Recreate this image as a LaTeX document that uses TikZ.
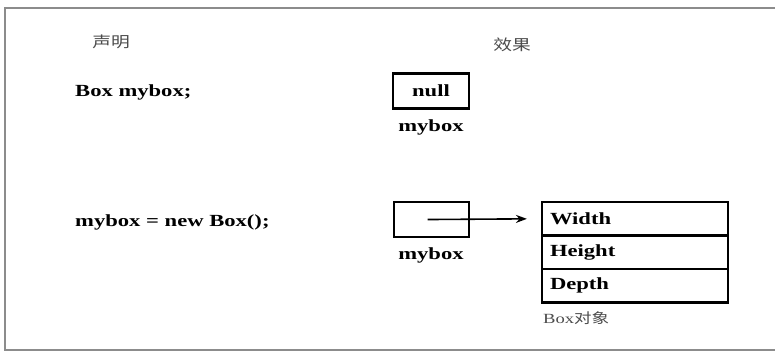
\documentclass[tikz,border=0pt]{standalone}
\usepackage{fontspec}
\setmainfont{Liberation Serif}[FakeStretch=1.33]
\newfontfamily\cjk{Noto Sans CJK SC}[FakeStretch=1.25]
\usetikzlibrary{arrows.meta}
\tikzset{
  code/.style={font=\fontsize{17}{19}\selectfont\bfseries, inner sep=0pt},
  cjklabel/.style={font=\fontsize{15}{17}\selectfont\cjk, text=black!70, inner sep=0pt},
  cell/.style={draw=black, line width=2.2pt, minimum width=75pt, minimum height=35pt, inner sep=0pt, font=\fontsize{17}{19}\selectfont\bfseries},
  row/.style={draw=black, line width=2.2pt, minimum width=186pt, minimum height=33.5pt, text width=170pt, align=left, inner xsep=8pt, inner ysep=0pt, font=\fontsize{17}{19}\selectfont\bfseries},
  frame/.style={draw=black!45, line width=1.5pt},
  ptr/.style={line width=1.6pt, -{Stealth[length=11pt, width=8pt]}}
}
\begin{document}
\begin{tikzpicture}[x=1pt, y=-1pt]
\useasboundingbox (0,0) rectangle (775,352);
\fill[white] (0,0) rectangle (775,352);
% outer frame (right side off the picture)
\coordinate (f1) at (800,8);
\coordinate (f2) at (5,8);
\coordinate (f3) at (5,350);
\coordinate (f4) at (800,350);
\draw[frame] (f1) -- (f2) -- (f3) -- (f4);
% headings
\node[cjklabel] (h1) at (111,42) {声明};
\node[cjklabel] (h2) at (512,45) {效果};
% row 1
\node[code, anchor=west] (s1) at (75,92) {Box mybox;};
\node[cell, minimum width=76pt, minimum height=35pt] (ref1) at (431,91) {null};
\node[code] (n1) at (431,127) {mybox};
% row 2
\node[code, anchor=west] (s2) at (75,222) {mybox = new Box();};
\node[cell] (ref2) at (431.5,219.5) {};
\node[code] (n2) at (431,255) {mybox};
% object
\node[row] (w) at (635,218.75) {Width};
\node[row] (hgt) at (635,252.25) {Height};
\node[row] (d) at (635,285.75) {Depth};
\node[cjklabel, anchor=west, font=\fontsize{14}{16}\selectfont] (cap) at (543,318) {Box{\cjk 对象}};
% pointer
\draw[ptr, shorten <=-4pt, shorten >=14pt] (ref2.center) -- (w.west);
\end{tikzpicture}
\end{document}
